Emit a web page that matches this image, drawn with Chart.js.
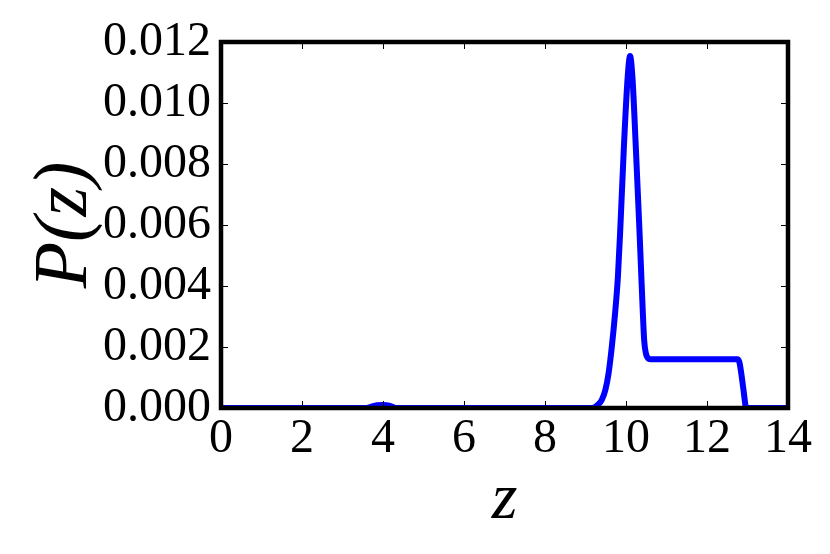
<!DOCTYPE html>
<html>
<head>
<meta charset="utf-8">
<script src="https://cdn.jsdelivr.net/npm/chart.js@4.4.1/dist/chart.umd.min.js"></script>
<style>
    html, body { margin: 0; padding: 0; background: #fff; }
    #wrap { width: 830px; height: 554px; }
</style>
</head>
<body>
<div id="wrap"><canvas id="chart" width="830" height="554"></canvas></div>
<script>
// z grid and P(z) values
const zValues = [0, 3.6, 3.7, 3.85, 4.0, 4.15, 4.25, 4.3,
    9.0, 9.15, 9.23, 9.3, 9.4, 9.49, 9.57, 9.65, 9.73, 9.8, 9.86, 9.95, 10.04, 10.1,
    10.16, 10.24, 10.33, 10.37, 10.41, 10.45, 10.49, 10.53, 10.6,
    11.0, 11.5, 12.0, 12.5, 12.75, 12.8, 12.85, 12.9, 12.97, 14];
const pValues = [0, 0, 0.00004, 0.00009, 0.0001, 0.00008, 0.00003, 0,
    0, 0, 0.00003, 0.0001, 0.00026, 0.00059, 0.00114, 0.00201, 0.0031, 0.0043, 0.0059, 0.00862, 0.01082, 0.01154,
    0.01082, 0.00862, 0.0059, 0.0046, 0.0033, 0.0022, 0.0018, 0.00166, 0.0016,
    0.0016, 0.0016, 0.0016, 0.0016, 0.0016, 0.0015, 0.0011, 0.0006, 0, 0];

const xTicks = [0, 2, 4, 6, 8, 10, 12, 14];
const yTicks = [0, 0.002, 0.004, 0.006, 0.008, 0.010, 0.012];

const serif = '"Liberation Serif", "Times New Roman", serif';

// matplotlib-style box with inward ticks on every side
const frame = {
    id: 'frame',
    afterDatasetsDraw(chart) {
        const { ctx, chartArea: a, scales: { x, y } } = chart;
        ctx.save();
        ctx.strokeStyle = '#000';
        ctx.lineWidth = 1;
        ctx.beginPath();
        xTicks.forEach(v => {
            const px = Math.round(x.getPixelForValue(v)) + 0.5;
            ctx.moveTo(px, a.bottom); ctx.lineTo(px, a.bottom - 7);
            ctx.moveTo(px, a.top); ctx.lineTo(px, a.top + 7);
        });
        yTicks.forEach(v => {
            const py = Math.round(y.getPixelForValue(v)) + 0.5;
            ctx.moveTo(a.left, py); ctx.lineTo(a.left + 7, py);
            ctx.moveTo(a.right, py); ctx.lineTo(a.right - 7, py);
        });
        ctx.stroke();
        ctx.lineWidth = 4.5;
        ctx.strokeRect(a.left, a.top, a.right - a.left, a.bottom - a.top);
        ctx.restore();
    }
};

new Chart(document.getElementById('chart'), {
    type: 'line',
    data: {
        datasets: [{
            data: zValues.map((z, i) => ({ x: z, y: pValues[i] })),
            borderColor: '#0000ff',
            borderWidth: 6,
            pointRadius: 0,
            cubicInterpolationMode: 'monotone',
            fill: false
        }]
    },
    options: {
        responsive: false,
        animation: false,
        layout: { padding: { left: 0, top: 42, right: 42, bottom: 0 } },
        plugins: { legend: { display: false }, tooltip: { enabled: false } },
        scales: {
            x: {
                type: 'linear',
                min: 0,
                max: 14,
                afterFit: s => { s.height = 146; },
                afterBuildTicks: s => { s.ticks = xTicks.map(v => ({ value: v })); },
                grid: { display: false, drawTicks: false },
                border: { display: false },
                ticks: {
                    color: '#000',
                    padding: 3,
                    maxRotation: 0,
                    font: { family: serif, size: 48 }
                },
                title: {
                    display: true,
                    text: 'z',
                    color: '#000',
                    padding: { top: 0, bottom: 14 },
                    font: { family: serif, size: 66, style: 'italic', lineHeight: 1.2 }
                }
            },
            y: {
                min: 0,
                max: 0.012,
                afterFit: s => { s.width = 221; },
                afterBuildTicks: s => { s.ticks = yTicks.map(v => ({ value: v })); },
                grid: { display: false, drawTicks: false },
                border: { display: false },
                ticks: {
                    color: '#000',
                    padding: 10,
                    font: { family: serif, size: 48 },
                    callback: v => v.toFixed(3)
                },
                title: {
                    display: true,
                    text: 'P(z)',
                    color: '#000',
                    padding: { top: 20, bottom: 0 },
                    font: { family: serif, size: 76, style: 'italic', lineHeight: 1.2 }
                }
            }
        }
    },
    plugins: [frame]
});
</script>
</body>
</html>
